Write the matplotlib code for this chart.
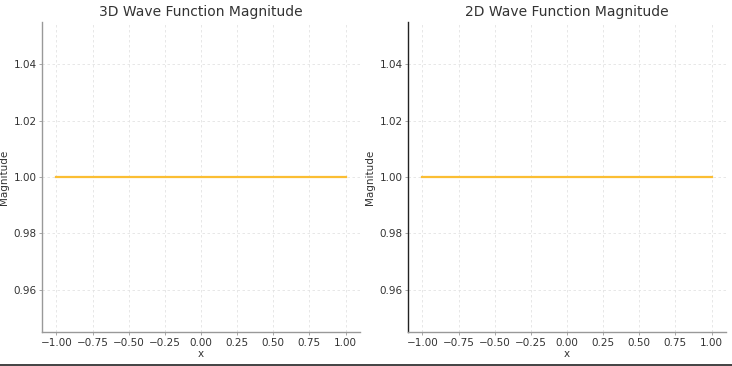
import numpy as np
import matplotlib
matplotlib.use("Agg")
import matplotlib.pyplot as plt
from matplotlib.lines import Line2D

x_vals = [-1.0, 1.0]
mag_3d = [1.0, 1.0]
mag_2d = [1.0, 1.0]
titles = ["3D Wave Function Magnitude", "2D Wave Function Magnitude"]
series = [mag_3d, mag_2d]

plt.rcParams['font.family'] = ['DejaVu Sans']
text_color = '#333333'

fig = plt.figure(figsize=(7.32, 3.66), dpi=100)
positions = [[0.0574, 0.0929, 0.4344, 0.847], [0.5574, 0.0929, 0.4344, 0.847]]
spine_colors = ['#999999', '#222222']

for pos, title, ys, sc in zip(positions, titles, series, spine_colors):
    ax = fig.add_axes(pos)
    ax.plot(x_vals, ys, color='#fbbe33', linewidth=1.6)
    ax.set_title(title, fontsize=10, color=text_color, pad=4)
    ax.set_xlabel('x', fontsize=7.5, color=text_color, labelpad=1)
    ax.set_ylabel('Magnitude', fontsize=7.5, color=text_color, labelpad=3)
    ax.set_xticks(np.arange(-1.0, 1.01, 0.25))
    ax.set_yticks([0.96, 0.98, 1.00, 1.02, 1.04])
    ax.tick_params(labelsize=7.5, colors=text_color, length=2, width=0.6, pad=2)
    ax.tick_params(axis='both', color='#999999')
    ax.grid(True, linestyle=(0, (3, 3)), color='#e3e3e3', linewidth=0.6)
    ax.set_axisbelow(True)
    for s in ['top', 'right']:
        ax.spines[s].set_visible(False)
    ax.spines['left'].set_color(sc)
    ax.spines['bottom'].set_color('#999999')
    ax.spines['left'].set_linewidth(1.0)
    ax.spines['bottom'].set_linewidth(1.0)

fig.add_artist(Line2D([0, 1], [0.004, 0.004], transform=fig.transFigure, color='#222222', linewidth=1.2))

fig.savefig('out.png', dpi=100)
